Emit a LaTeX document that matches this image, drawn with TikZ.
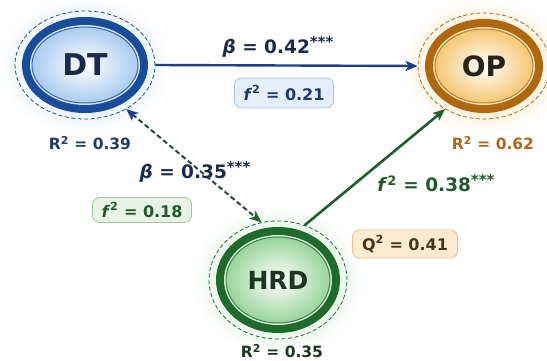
\documentclass[tikz,border=0pt]{standalone}
\usepackage{fontspec}
\setmainfont{DejaVu Sans}
\usetikzlibrary{arrows.meta,shapes.geometric}

% palette
\definecolor{dtdark}{HTML}{1A4C9C}
\definecolor{dtrim}{HTML}{D2E3F7}
\definecolor{dtfill}{HTML}{A9CCF0}
\definecolor{dttext}{HTML}{1B2A4A}
\definecolor{opdark}{HTML}{B0680F}
\definecolor{oprim}{HTML}{F8E0B4}
\definecolor{opfill}{HTML}{F5C772}
\definecolor{optext}{HTML}{2A2118}
\definecolor{hrddark}{HTML}{1F6B2C}
\definecolor{hrdrim}{HTML}{D3EBD3}
\definecolor{hrdfill}{HTML}{98D49A}
\definecolor{hrdtext}{HTML}{1E3522}
\definecolor{navyline}{HTML}{1C3F86}
\definecolor{greenline}{HTML}{1E5E2E}
\definecolor{dashline}{HTML}{2C4640}
\definecolor{bluebox}{HTML}{E3EEFA}
\definecolor{blueboxedge}{HTML}{A9C6E8}
\definecolor{greenbox}{HTML}{E8F3E6}
\definecolor{greenboxedge}{HTML}{9DC49A}
\definecolor{orangebox}{HTML}{FCEBD0}
\definecolor{orangeboxedge}{HTML}{E6C08A}
\definecolor{labnavy}{HTML}{1E3A6E}
\definecolor{labgreen}{HTML}{1E5A2A}
\definecolor{laborange}{HTML}{B0651A}
\definecolor{labbrown}{HTML}{4A3418}

% soft glow around each construct
\colorlet{haloc}{white}
\pgfdeclareradialshading[haloc]{halo}{\pgfpoint{0bp}{0bp}}{%
  color(0bp)=(haloc); color(17bp)=(haloc); color(25bp)=(white); color(50bp)=(white)}

% significance stars and squared index
\newcommand\sigstars{\raisebox{0.36em}{\fontsize{15}{15}\selectfont ***}}
\newcommand\sq{\textsuperscript{2}}

% #1 name, #2 position, #3 x radius, #4 y radius, #5 ring colour,
% #6 rim colour, #7 fill colour, #8 text colour, #9 label
\newcommand\latentvar[9]{%
  \colorlet{haloc}{#7!22}
  \shade[shading=halo] (#2) ellipse [x radius=#3+24, y radius=#4+22];
  \fill[#5] (#2) ellipse [x radius=#3, y radius=#4];
  \fill[#6] (#2) ellipse [x radius=#3-8, y radius=#4-8];
  \shade[inner color=white, outer color=#7, draw=#5!85, line width=1pt]
    (#2) ellipse [x radius=#3-10, y radius=#4-10];
  \node[construct, draw=#5, text=#8,
        minimum width=2*#3+14, minimum height=2*#4+12] (#1) at (#2) {#9};
}

\tikzset{
  x=1pt, y=1pt,
  construct/.style={ellipse, inner sep=0pt, line width=0.8pt,
    dash pattern=on 4pt off 2.5pt, font=\bfseries\fontsize{28}{30}\selectfont},
  coef/.style={font=\bfseries\fontsize{18.5}{20}\selectfont},
  rlab/.style={font=\bfseries\fontsize{15.5}{18}\selectfont},
  effbox/.style={rounded corners=7pt, line width=0.8pt, inner xsep=9pt,
    inner ysep=4pt, font=\bfseries\fontsize{16}{18}\selectfont},
  pathtip/.tip={Stealth[length=12pt, width=10pt, inset=3pt]}
}

\begin{document}
\begin{tikzpicture}
\useasboundingbox (0,0) rectangle (547,361);
\fill[white] (0,0) rectangle (547,361);

\latentvar{DT}{85,296}{63}{48}{dtdark}{dtrim}{dtfill}{dttext}{\fontsize{30}{32}\selectfont DT}
\latentvar{OP}{484,295}{59}{47}{opdark}{oprim}{opfill}{optext}{OP}
\latentvar{HRD}{278,81}{62}{53}{hrddark}{hrdrim}{hrdfill}{hrdtext}{\fontsize{25}{27}\selectfont HRD}

% paths
\draw[navyline, line width=2.4pt, -{pathtip[navyline]}] (DT.east) -- (OP.west);
\draw[dashline, line width=2pt, dash pattern=on 5pt off 3pt,
      {pathtip[navyline]}-{pathtip[hrddark]}] (DT.-47) -- (HRD.106);
\draw[greenline, line width=2.6pt, -{pathtip[greenline]}] (HRD.64) -- (OP.228);

% path coefficients and effect sizes
\node[coef, text=dttext] (b1) at (278,314) {\textit{β} = 0.42\sigstars};
\node[effbox, fill=bluebox, draw=blueboxedge, text=labnavy,
      minimum width=98pt, minimum height=30pt] (f1) at (284,268)
      {\textit{f}\sq{} = 0.21};
\node[coef, text=dttext] (b2) at (195,189) {\textit{β} = 0.35\sigstars};
\node[effbox, fill=greenbox, draw=greenboxedge, text=labgreen,
      minimum width=99pt, minimum height=25pt] (f2) at (142,151)
      {\textit{f}\sq{} = 0.18};
\node[coef, text=labgreen] (f3) at (436,178) {\textit{f}\sq{} = 0.38\sigstars};
\node[effbox, fill=orangebox, draw=orangeboxedge, text=labbrown,
      minimum width=105pt, minimum height=28pt] (q1) at (405,117)
      {Q\sq{} = 0.41};

% explained variance
\node[rlab, text=labnavy] (r1) at (90,218) {R\sq{} = 0.39};
\node[rlab, text=laborange] (r2) at (493,218) {R\sq{} = 0.62};
\node[rlab, text=hrdtext] (r3) at (282,10) {R\sq{} = 0.35};
\end{tikzpicture}
\end{document}
